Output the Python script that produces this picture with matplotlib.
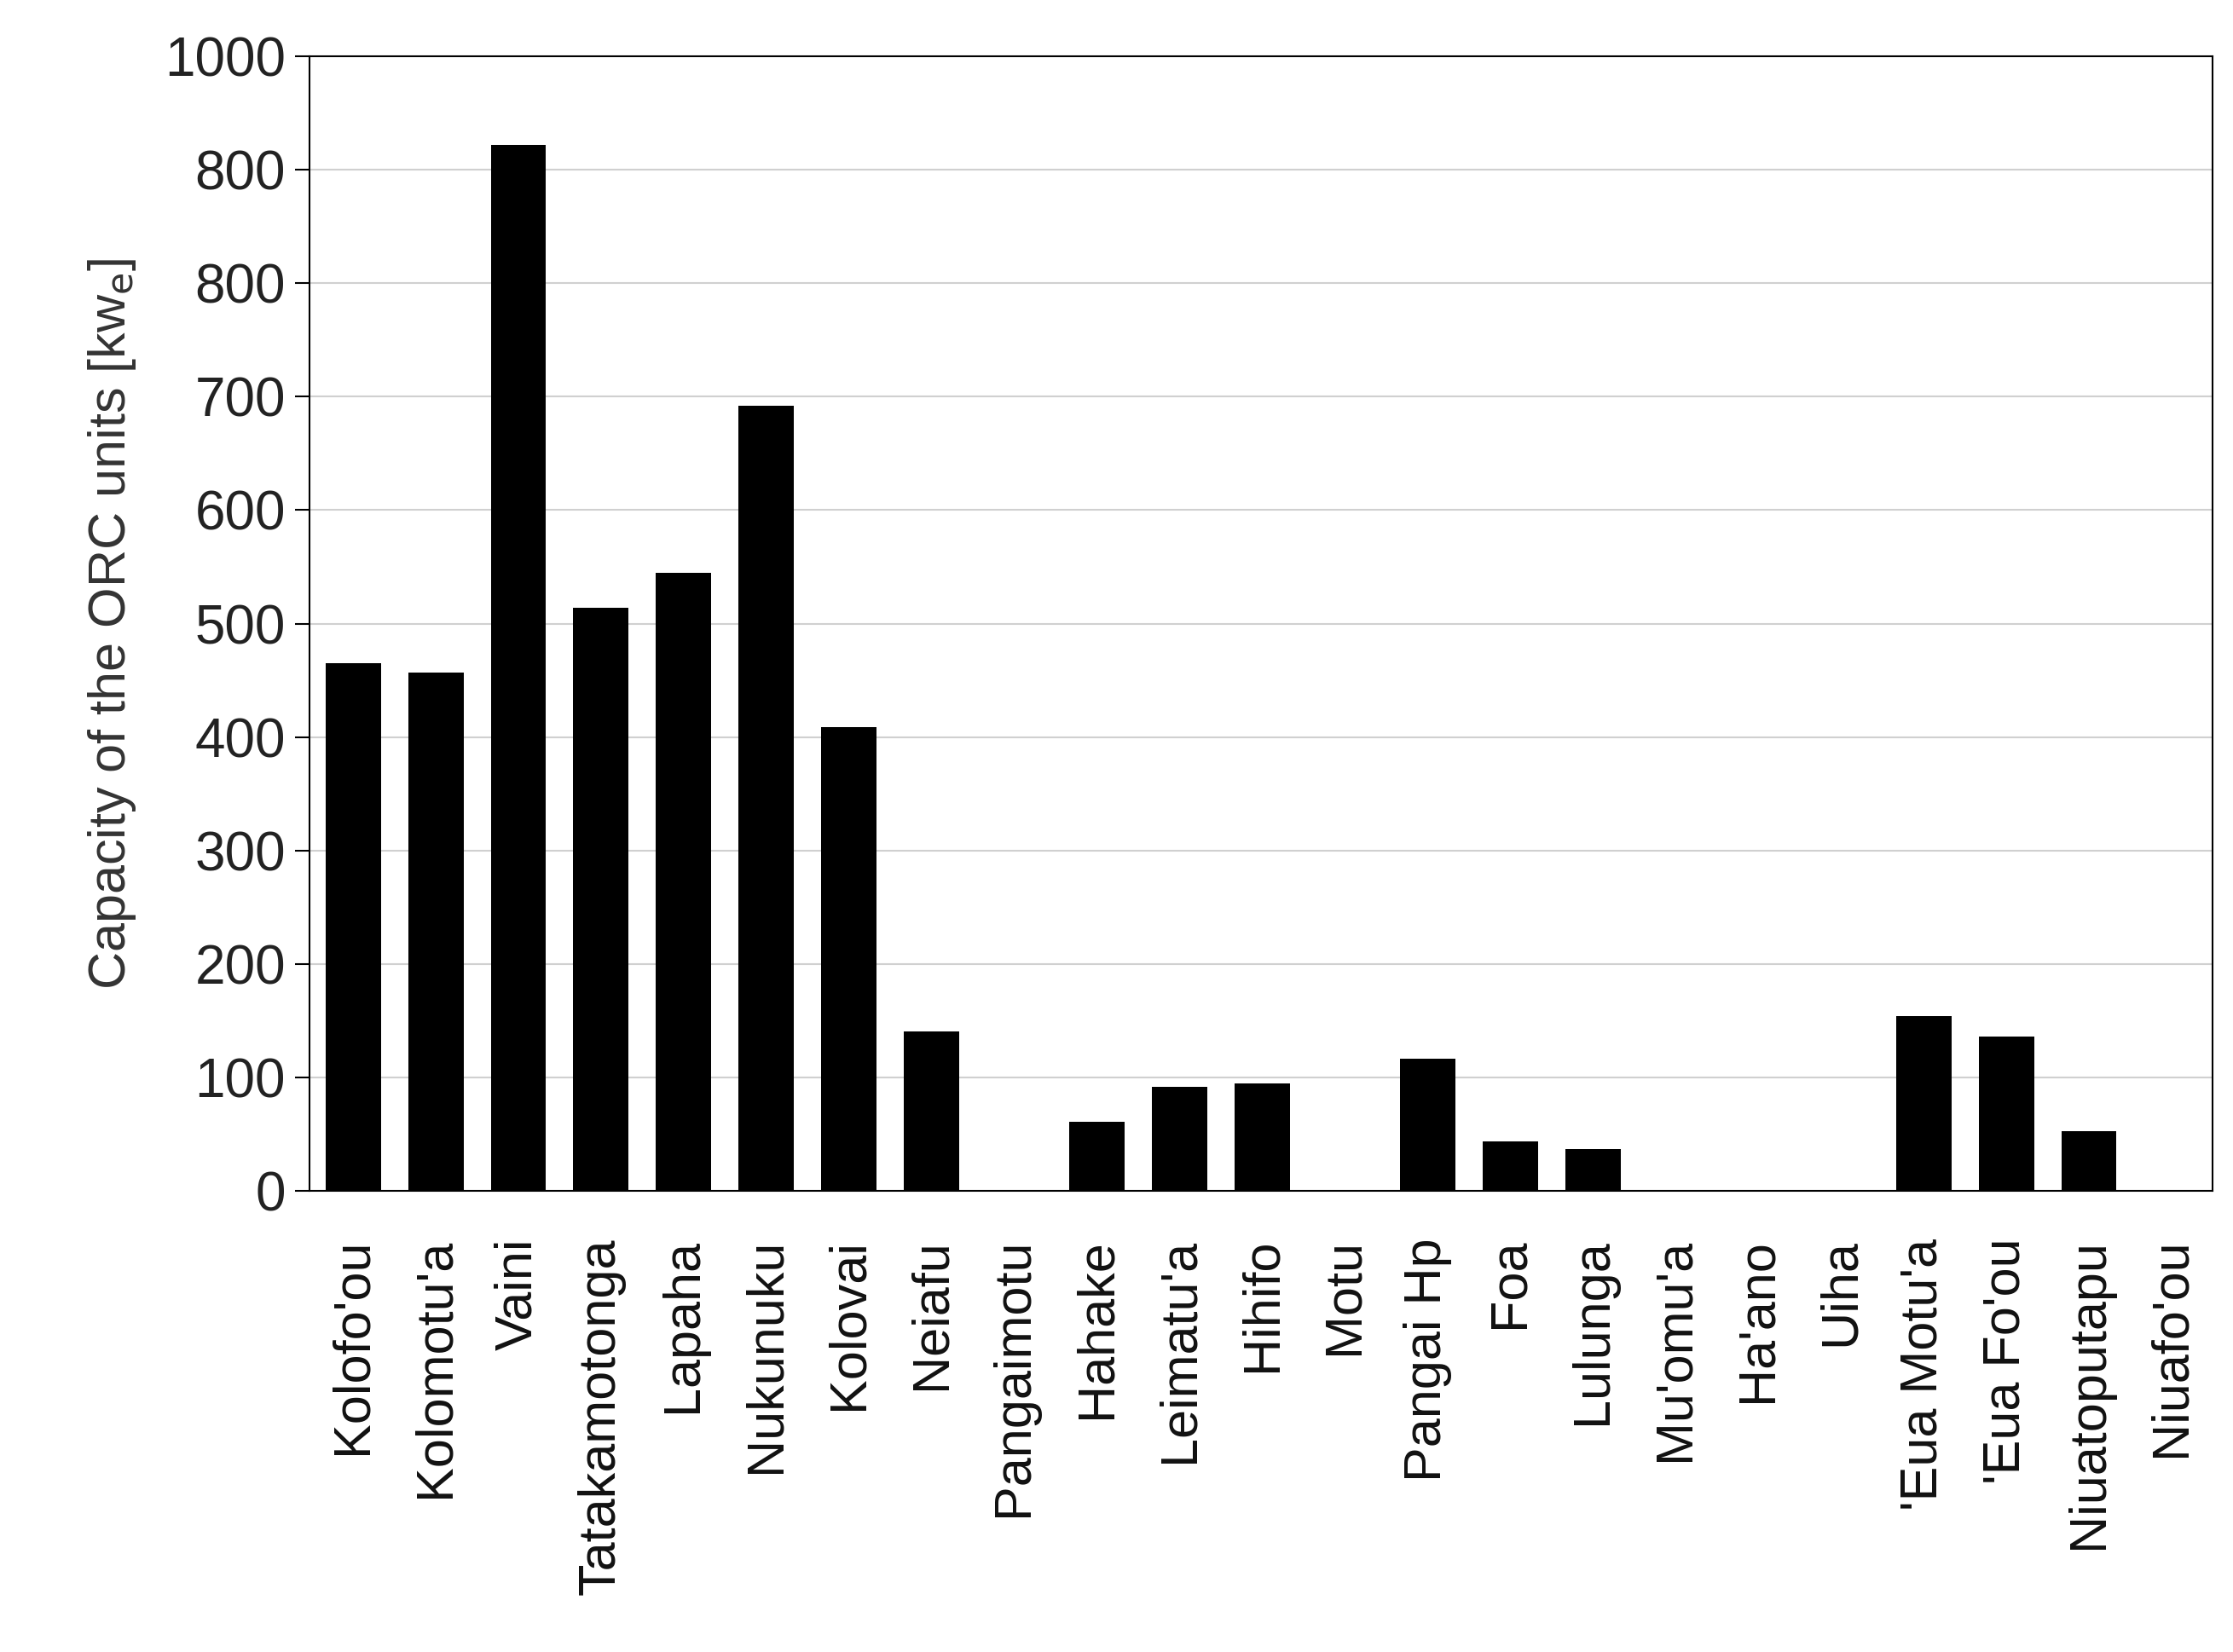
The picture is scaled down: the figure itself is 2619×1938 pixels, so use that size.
import matplotlib
matplotlib.use("Agg")
import matplotlib.pyplot as plt

categories = ["Kolofo'ou", "Kolomotu'a", "Vaini", "Tatakamotonga", "Lapaha", "Nukunuku",
              "Kolovai", "Neiafu", "Pangaimotu", "Hahake", "Leimatu'a", "Hihifo", "Motu",
              "Pangai Hp", "Foa", "Lulunga", "Mu'omu'a", "Ha'ano", "Uiha", "'Eua Motu'a",
              "'Eua Fo'ou", "Niuatoputapu", "Niuafo'ou"]
values = [465, 457, 922, 514, 545, 692, 409, 141, 0, 61, 92, 95, 0, 117, 44, 37, 0, 0, 0,
          154, 136, 53, 0]
yticks = [0, 100, 200, 300, 400, 500, 600, 700, 800, 900, 1000]
ytick_labels = ["0", "100", "200", "300", "400", "500", "600", "700", "800", "800", "1000"]

plt.rcParams['font.family'] = ['Liberation Sans', 'DejaVu Sans']
fig = plt.figure(figsize=(26.19, 19.38), dpi=100)
ax = fig.add_axes([0.1385, 0.279, 0.8525, 0.687])
x = range(len(categories))
ax.bar(x, values, width=0.67, color='black', zorder=3)
ax.set_xlim(-0.53, len(categories) - 0.5)
ax.set_ylim(0, 1000)
ax.set_yticks(yticks)
ax.set_yticklabels(ytick_labels, fontsize=46, color='#222222')
ax.set_xticks(list(x))
ax.set_xticklabels(categories, rotation=90, fontsize=44, color='#111111')
ax.tick_params(axis='x', length=0, pad=40)
ax.tick_params(axis='y', length=12, width=1.5, direction='out', pad=8)
ax.yaxis.grid(True, color='#d0d0d0', linewidth=1.5, zorder=0)
for s in ax.spines.values():
    s.set_linewidth(1.5)
ax.set_ylabel('Capacity of the ORC units [kw$_\\mathrm{e}$]', fontsize=44, color='#333333', labelpad=22)
fig.savefig('out.png', dpi=100)
